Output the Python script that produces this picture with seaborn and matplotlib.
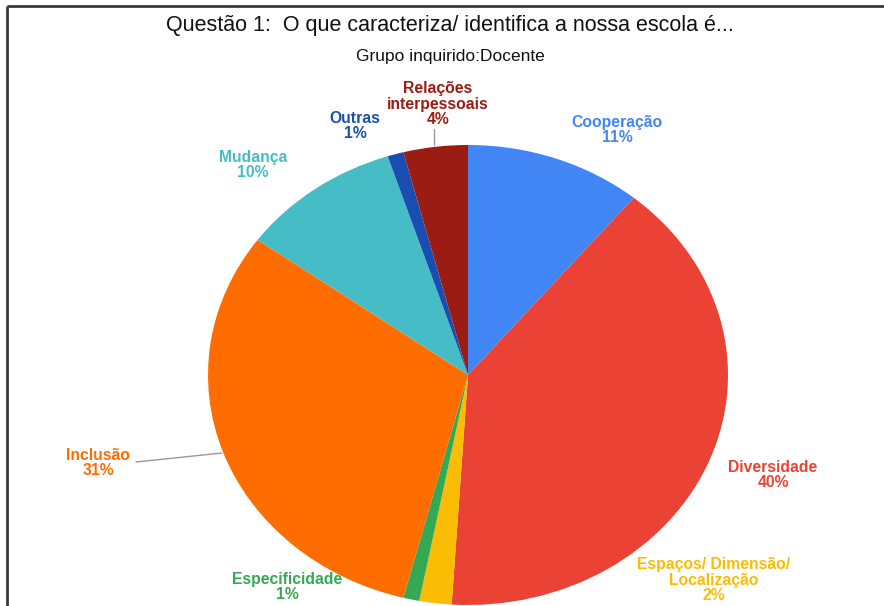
import matplotlib
matplotlib.use("Agg")
import matplotlib.pyplot as plt
import seaborn as sns

categories = ["Cooperação", "Diversidade", "Espaços/ Dimensão/\nLocalização", "Especificidade",
              "Inclusão", "Mudança", "Outras", "Relações\ninterpessoais"]
values = [11, 40, 2, 1, 31, 10, 1, 4]
colors = ["#4285F4", "#EA4335", "#FBBC04", "#34A853", "#FF6D01", "#46BDC6", "#1A4DB2", "#9B1C13"]
label_pos = [(617, 130), (773, 475), (714, 580), (287, 587),
             (98, 463), (253, 165), (355, 126), (438, 104)]

title = "Questão 1:  O que caracteriza/ identifica a nossa escola é..."
subtitle = "Grupo inquirido:Docente"

sns.set_theme(style="white")
plt.rcParams['font.family'] = ['Liberation Sans', 'DejaVu Sans']

W, H = 884, 606
fig = plt.figure(figsize=(W / 100, H / 100), dpi=100)
fig.patch.set_facecolor("white")

# overlay axes in pixel coordinates
ov = fig.add_axes([0, 0, 1, 1])
ov.set_xlim(0, W)
ov.set_ylim(H, 0)
ov.axis("off")

# pie axes (elliptical pie as in the reference)
cx, cy, rx, ry = 468, 375, 260, 230
pax = fig.add_axes([(cx - rx) / W, (H - (cy + ry)) / H, 2 * rx / W, 2 * ry / H])
pax.pie(values, colors=sns.color_palette(colors), startangle=90, counterclock=False,
        radius=1, wedgeprops=dict(linewidth=0))
pax.set_aspect("auto")
pax.set_xlim(-1, 1)
pax.set_ylim(-1, 1)
pax.axis("off")

# frame lines (top and left)
ov.plot([7, W], [6, 6], color="#3a3a3a", lw=2, solid_capstyle="butt")
ov.plot([7, 7], [6, H], color="#3a3a3a", lw=2, solid_capstyle="butt")

ov.text(450, 25, title, ha="center", va="center", fontsize=15.5, color="#111111")
ov.text(450, 57, subtitle, ha="center", va="center", fontsize=12.5, color="#111111")

for cat, val, col, (x, y) in zip(categories, values, colors, label_pos):
    ov.text(x, y, f"{cat}\n{val}%", ha="center", va="center", fontsize=11.3,
            fontweight="bold", color=col, linespacing=1.05)

# leader lines
ov.plot([136, 222], [462, 453], color="#999999", lw=1)
ov.plot([434, 434], [129, 145], color="#999999", lw=1)

pax.set_zorder(1)
ov.set_zorder(2)
ov.patch.set_alpha(0)

fig.savefig("out.png", dpi=100, facecolor="white")
